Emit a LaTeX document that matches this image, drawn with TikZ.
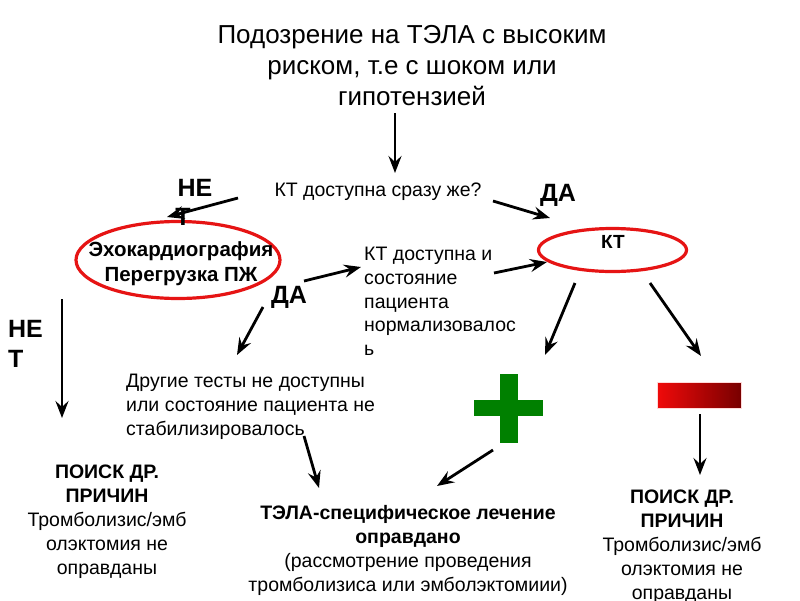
\documentclass[tikz,border=0pt]{standalone}
\usepackage{fontspec}
\setmainfont{Liberation Sans}
\usetikzlibrary{shapes.geometric,arrows.meta}
\definecolor{ellred}{RGB}{230,20,20}
\definecolor{plusgreen}{RGB}{0,128,0}
\definecolor{minusdark}{RGB}{120,0,0}
\definecolor{minusred}{RGB}{240,10,10}
\tikzset{
  arr/.style={line width=2.8pt,-{Stealth[length=17pt,width=13pt,inset=6pt]}},
  ell/.style={ellipse,draw=ellred,line width=3.2pt,inner sep=0pt},
  txt/.style={inner sep=0pt,font=\fontsize{19.5}{24}\selectfont,align=center},
  txtl/.style={inner sep=0pt,font=\fontsize{19.5}{23.7}\selectfont,align=left},
  lbl/.style={inner sep=0pt,font=\fontsize{25}{30}\selectfont\bfseries,align=left},
}
\begin{document}
\begin{tikzpicture}[x=1pt,y=-1pt]
\useasboundingbox (0,0) rectangle (800,600);
\fill[white] (0,0) rectangle (800,600);

% title
\node[inner sep=0pt,font=\fontsize{26}{31}\selectfont,align=center,anchor=north] (title) at (412,25)
  {Подозрение на ТЭЛА с высоким\\риском, т.е с шоком или\\гипотензией};
\coordinate (t1) at (395,113);
\node[txt,anchor=north] (q) at (378,183) {КТ доступна сразу же?};
\draw[arr] (t1) -- ([yshift=10pt]q.north -| t1);

% left ellipse
\node[ell,minimum width=204pt,minimum height=77pt] (echoell) at (178,260) {};
\node[txt,font=\fontsize{20.5}{25}\selectfont\bfseries] (echo) at (181,264) {Эхокардиография\\Перегрузка ПЖ};

% right ellipse
\node[ell,minimum width=148pt,minimum height=43pt] (ktell) at (612.5,250) {};
\node[txt,font=\fontsize{19}{20}\selectfont\bfseries] (kt) at (613,241.5) {КТ};

% NET label top
\node[lbl] (net1) at (195,188) {НЕ};
\node[lbl] (net1b) at (183,217) {Т};
\coordinate (n1s) at (238,198);
\coordinate (n1e) at (167,217);
\draw[arr] (n1s) -- (n1e);

% DA top
\node[lbl] (da1) at (558,195) {ДА};
\coordinate (d1s) at (493,201);
\coordinate (d1e) at (550,218);
\draw[arr] (d1s) -- (d1e);

% middle text
\node[txtl,anchor=north west] (ktnorm) at (364,247)
  {КТ доступна и\\состояние\\пациента\\нормализовалос\\ь};
\coordinate (m1s) at (304,281);
\coordinate (m1e) at (361,267);
\draw[arr] (m1s) -- (m1e);
\node[lbl] (da2) at (289,297) {ДА};
\coordinate (m2s) at (494,273);
\coordinate (m2e) at (547,262);
\draw[arr] (m2s) -- (m2e);

% other tests
\node[txtl,anchor=north west] (other) at (126,374)
  {Другие тесты не доступны\\или состояние пациента не\\стабилизировалось};
\coordinate (o1s) at (263,307);
\coordinate (o1e) at (237,355);
\draw[arr] (o1s) -- (o1e);

% KT branches
\coordinate (k1s) at (575,283);
\coordinate (k1e) at (545,355);
\draw[arr] (k1s) -- (k1e);
\coordinate (k2s) at (650,283);
\coordinate (k2e) at (701,356);
\draw[arr] (k2s) -- (k2e);

% plus
\node[inner sep=0pt,minimum size=0pt] (plus) at (509,409) {};
\fill[plusgreen] (500,374) rectangle (518,443);
\fill[plusgreen] (474,400) rectangle (543,416);

% minus
\node[inner sep=0pt] (minus) at (699,395) {};
\shade[left color=minusred,right color=minusdark] (657,382) rectangle (741,408);
\draw[white!85!red,line width=0.6pt] (657,382) rectangle (741,408);

% arrows down
\coordinate (mi1) at (700,414);
\coordinate (mi2) at (700,475);
\draw[arr] (mi1) -- (mi2);
\coordinate (p1) at (493,450);
\coordinate (p2) at (437,486);
\draw[arr] (p1) -- (p2);
\coordinate (s1) at (304,436);
\coordinate (s2) at (319,488);
\draw[arr] (s1) -- (s2);
\coordinate (l1) at (62,299);
\coordinate (l2) at (62,418);
\draw[arr] (l1) -- (l2);

% NET left
\node[lbl,anchor=north west] (net2) at (8,320) {НЕ\\Т};

% bottom left
\node[txt,anchor=north] (left) at (107,465)
  {\textbf{ПОИСК ДР.}\\\textbf{ПРИЧИН}\\Тромболизис/эмб\\олэктомия не\\оправданы};

% bottom center
\node[txt,anchor=north] (center) at (408,505)
  {\textbf{ТЭЛА-специфическое лечение}\\\textbf{оправдано}\\(рассмотрение проведения\\тромболизиса или эмболэктомиии)};

% bottom right
\node[txt,anchor=north] (right) at (682,490)
  {\textbf{ПОИСК ДР.}\\\textbf{ПРИЧИН}\\Тромболизис/эмб\\олэктомия не\\оправданы};
\end{tikzpicture}
\end{document}
